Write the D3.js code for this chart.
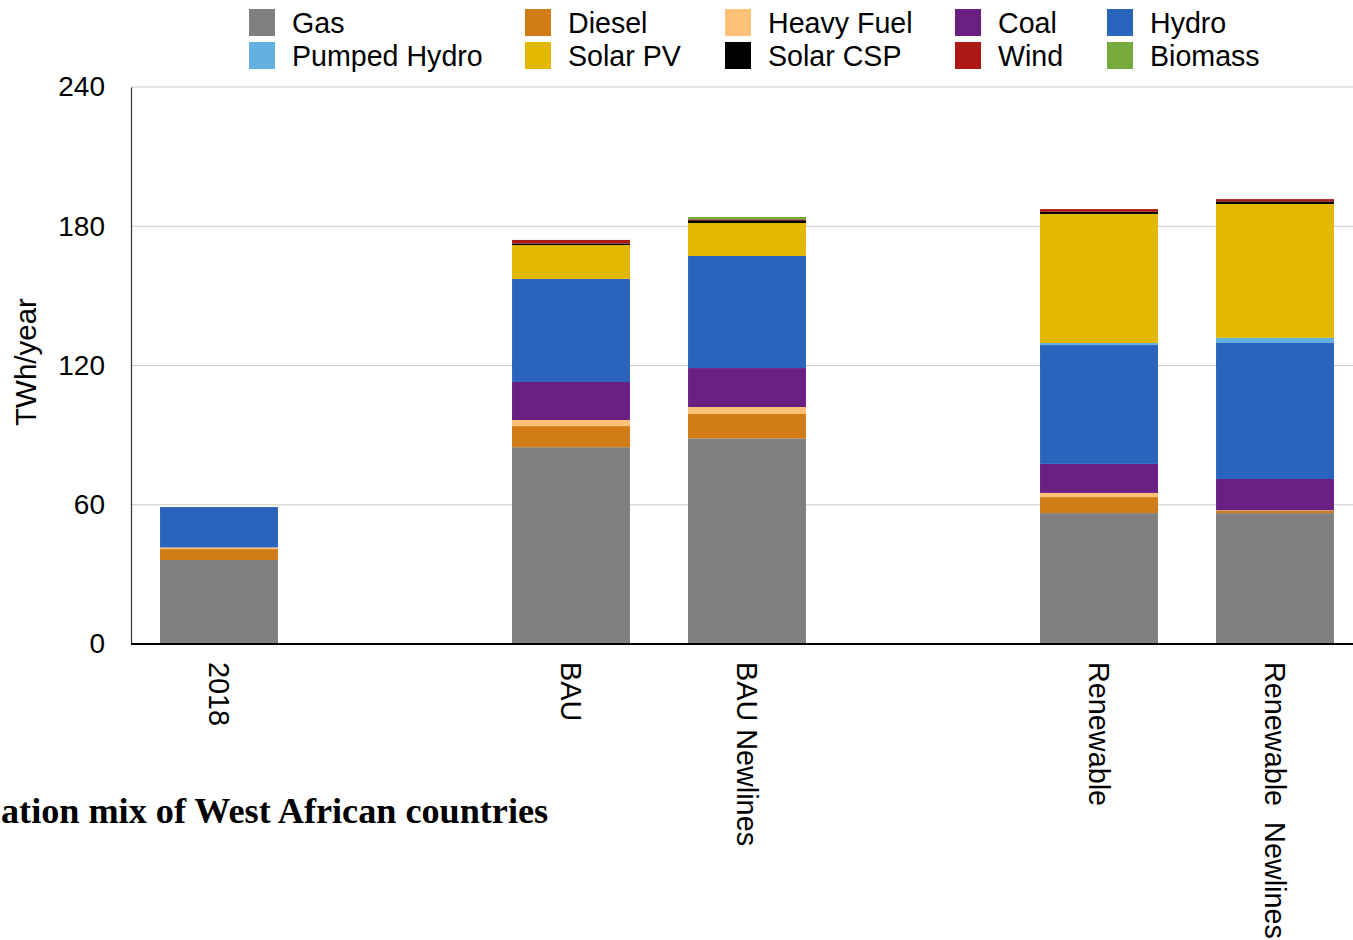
<!DOCTYPE html>
<html>
<head>
<meta charset="utf-8">
<script src="https://cdn.jsdelivr.net/npm/d3@7/dist/d3.min.js"></script>
<style>
  html, body { margin: 0; padding: 0; background: #fff; }
  svg { display: block; }
  text { font-family: "Liberation Sans", Arial, sans-serif; fill: #000; }
</style>
</head>
<body>
<svg id="chart" width="1353" height="940"></svg>
<script>
// Scenario columns (blank keys leave empty slots between groups)
const categories = ["2018", "gap1", "BAU", "BAU Newlines", "gap2", "Renewable", "Renewable  Newlines"];
const categoryLabels = ["2018", "", "BAU", "BAU Newlines", "", "Renewable", "Renewable  Newlines"];

// Generation technologies, stacked bottom to top
const technologies = ["Gas", "Diesel", "Heavy Fuel", "Coal", "Hydro", "Pumped Hydro", "Solar PV", "Solar CSP", "Wind", "Biomass"];
const techColors = ["#808080", "#d17c16", "#ffc177", "#6a2083", "#2a64bc", "#63b1e1", "#e2b800", "#000000", "#ad1a16", "#76ab3c"];

// TWh/year per technology, one value per column (in category order)
const gas         = [36.2, 0, 84.8, 88.6, 0, 56.4, 56.4];
const diesel      = [4.7,  0, 9.1,  10.5, 0, 6.9,  0.9];
const heavyFuel   = [0.7,  0, 2.6,  3.0,  0, 1.8,  0.3];
const coal        = [0,    0, 16.4, 16.8, 0, 12.5, 13.5];
const hydro       = [17.4, 0, 44.4, 48.3, 0, 51.2, 58.6];
const pumpedHydro = [0,    0, 0,    0,   0, 0.9,  2.2];
const solarPV     = [0,    0, 14.6, 14.2, 0, 55.6, 57.7];
const solarCSP    = [0,    0, 0.7,  1.2,  0, 0.9,  1.1];
const wind        = [0,    0, 1.5,  0.4,  0, 1.2,  1.0];
const biomass     = [0,    0, 0,    1.0,  0, 0,    0];

const yTicks = [0, 60, 120, 180, 240];
const yTitle = "TWh/year";
const caption = "ation mix of West African countries";

const seriesValues = [gas, diesel, heavyFuel, coal, hydro, pumpedHydro, solarPV, solarCSP, wind, biomass];

// Table for d3.stack
const rows = categories.map((c, i) => {
  const r = { category: c };
  technologies.forEach((t, k) => { r[t] = seriesValues[k][i]; });
  return r;
});

const svg = d3.select("#chart");
const plotLeft = 131, plotRight = 1353, plotTop = 87, plotBottom = 644;

const x = d3.scaleBand()
  .domain(categories)
  .range([plotLeft, 1363])
  .paddingInner(0.33)
  .paddingOuter(0.165);

const y = d3.scaleLinear().domain([0, 240]).range([plotBottom, plotTop]);

// Gridlines
svg.append("g")
  .selectAll("line")
  .data(yTicks.filter(d => d > 0))
  .join("line")
  .attr("x1", plotLeft).attr("x2", plotRight)
  .attr("y1", d => y(d)).attr("y2", d => y(d))
  .attr("stroke", "#cccccc").attr("stroke-width", 1.2);

// Stacked bars
const stacked = d3.stack().keys(technologies)(rows);
const color = d3.scaleOrdinal().domain(technologies).range(techColors);

svg.append("g")
  .selectAll("g")
  .data(stacked)
  .join("g")
  .attr("fill", d => color(d.key))
  .selectAll("rect")
  .data(d => d.filter(p => p[1] - p[0] > 0))
  .join("rect")
  .attr("x", d => x(d.data.category))
  .attr("width", x.bandwidth())
  .attr("y", d => y(d[1]))
  .attr("height", d => y(d[0]) - y(d[1]));

// Y axis
const yAxis = svg.append("g")
  .attr("transform", `translate(${plotLeft},0)`)
  .call(d3.axisLeft(y).tickValues(yTicks).tickSize(0).tickPadding(26).tickFormat(d3.format("d")));
yAxis.select(".domain").attr("stroke", "#333").attr("stroke-width", 1.2);
yAxis.selectAll("text")
  .style("font-family", "'Liberation Sans', Arial, sans-serif")
  .style("font-size", "28px")
  .attr("fill", "#000");

// X axis
const xAxis = svg.append("g")
  .attr("transform", `translate(0,${plotBottom})`)
  .call(d3.axisBottom(x).tickSize(0).tickFormat((d, i) => categoryLabels[i]));
xAxis.select(".domain").attr("stroke", "#000").attr("stroke-width", 2)
  .attr("d", `M${plotLeft},0H${plotRight}`);
xAxis.selectAll("text")
  .style("font-family", "'Liberation Sans', Arial, sans-serif")
  .style("font-size", "28.8px")
  .style("white-space", "pre")
  .attr("fill", "#000")
  .attr("text-anchor", "start")
  .attr("transform", "translate(0,18) rotate(90)")
  .attr("x", 0)
  .attr("y", 0)
  .attr("dy", "0.35em");

// Y axis title
svg.append("text")
  .attr("transform", "translate(36,362) rotate(-90)")
  .attr("text-anchor", "middle")
  .style("font-size", "29.5px")
  .text(yTitle);

// Legend
const legendCols = [249, 525, 725, 955, 1107];
const legendRows = [9, 42];
const legend = svg.append("g")
  .selectAll("g")
  .data(technologies)
  .join("g")
  .attr("transform", (d, i) => `translate(${legendCols[i % 5]},${legendRows[Math.floor(i / 5)]})`);
legend.append("rect")
  .attr("width", 26).attr("height", 27)
  .attr("fill", d => color(d));
legend.append("text")
  .attr("x", 43).attr("y", 13.5).attr("dy", "0.35em")
  .style("font-size", "28.6px")
  .text(d => d);

// Caption below the chart
svg.append("text")
  .attr("x", 1).attr("y", 823)
  .attr("text-anchor", "start")
  .style("font-family", "'Liberation Serif', 'Times New Roman', serif")
  .style("font-weight", "bold")
  .style("font-size", "36.2px")
  .text(caption);
</script>
</body>
</html>
